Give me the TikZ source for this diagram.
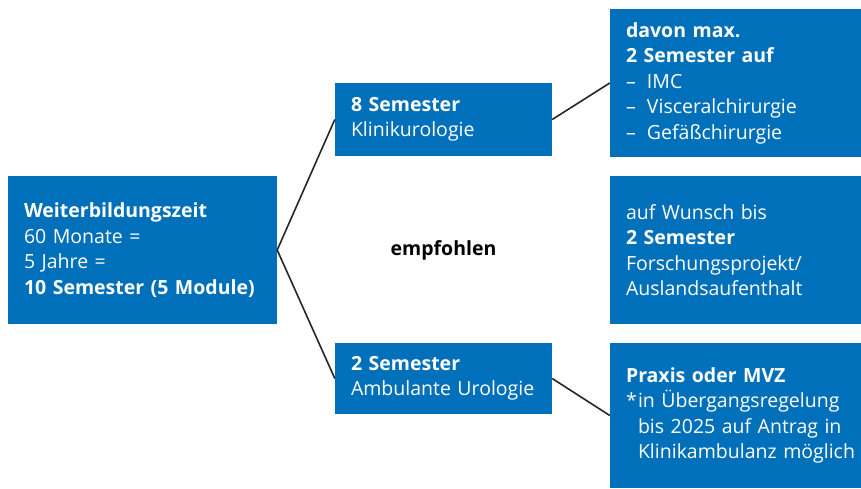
\documentclass[tikz,border=0pt]{standalone}
\usepackage{fontspec}
\setmainfont{Open Sans}
\usetikzlibrary{positioning}
\definecolor{unblau}{RGB}{0,112,186}

\tikzset{
  box/.style={fill=unblau, text=white, align=left, inner xsep=16pt, inner ysep=0pt,
    font=\fontsize{19.5}{25.5}\selectfont},
  conn/.style={draw=black!85, line width=1.6pt}
}

\begin{document}
\begin{tikzpicture}[x=1pt,y=-1pt]
  \useasboundingbox (0,0) rectangle (861,488);

  % Left box
  \node[box, text width=237pt, minimum height=148pt] (zeit) at (142.5,250)
    {\textbf{Weiterbildungszeit}\\60 Monate =\\5 Jahre =\\\textbf{10 Semester (5 Module)}};

  % Middle column
  \node[box, text width=185pt, minimum height=73pt] (klinik) at (443.5,119.5)
    {\textbf{8 Semester}\\Klinikurologie};
  \node[box, text width=185pt, minimum height=71pt] (ambulant) at (443.5,378.5)
    {\textbf{2 Semester}\\Ambulante Urologie};
  \node[font=\fontsize{19.5}{25.5}\selectfont\bfseries] (empf) at (443.5,250) {empfohlen};

  % Right column
  \node[box, text width=219pt, minimum height=148pt] (davon) at (735.5,83)
    {\textbf{davon max.}\\\textbf{2 Semester auf}\\\makebox[21pt][l]{–}IMC\\
     \makebox[21pt][l]{–}Visceralchirurgie\\\makebox[21pt][l]{–}Gefäßchirurgie};
  \node[box, text width=219pt, minimum height=148pt] (wunsch) at (735.5,250)
    {auf Wunsch bis\\\textbf{2 Semester}\\Forschungsprojekt/\\Auslandsaufenthalt};
  \node[box, text width=219pt, minimum height=145pt] (praxis) at (735.5,415.5)
    {\textbf{Praxis oder MVZ}\\\mbox{\makebox[12pt][l]{*}in Übergangsregelung}\\
     \mbox{\hspace*{12pt}bis 2025 auf Antrag in}\\\mbox{\hspace*{12pt}Klinikambulanz möglich}};

  % Connectors
  \draw[conn] (zeit.east) -- (klinik.west);
  \draw[conn] (zeit.east) -- (ambulant.west);
  \draw[conn] (klinik.east) -- (davon.west);
  \draw[conn] (ambulant.east) -- (praxis.west);
\end{tikzpicture}
\end{document}
